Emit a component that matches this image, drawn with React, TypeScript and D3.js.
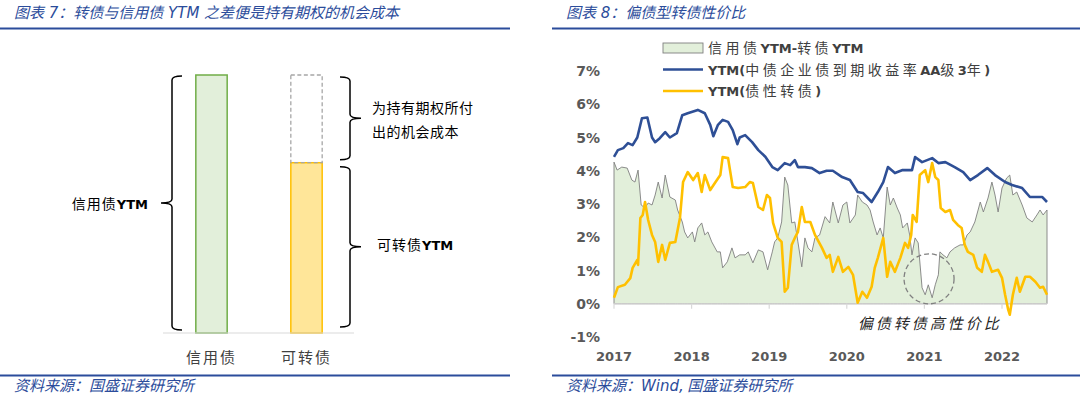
import React from 'react'
import * as d3 from 'd3'

// left diagram
const barCategories = ['信用债', '可转债']
const creditYtmLevel = 1
const cbYtmLevel = 0.66

// right chart: [year fraction, %]
const yearTicks = [2017, 2018, 2019, 2020, 2021, 2022]
const pctTicks = [-1, 0, 1, 2, 3, 4, 5, 6, 7]

const creditAA3y: [number, number][] = [
  [2017.0, 4.42], [2017.05, 4.62], [2017.12, 4.68], [2017.18, 4.83], [2017.24, 4.77],
  [2017.3, 5.0], [2017.36, 5.58], [2017.43, 5.6], [2017.49, 5.0], [2017.53, 4.86],
  [2017.59, 4.98], [2017.66, 5.16], [2017.72, 5.0], [2017.81, 5.13], [2017.88, 5.67],
  [2017.95, 5.73], [2018.08, 5.83], [2018.17, 5.73], [2018.24, 5.38], [2018.28, 5.04],
  [2018.34, 5.38], [2018.4, 5.53], [2018.47, 5.47], [2018.53, 5.22], [2018.59, 4.8],
  [2018.62, 5.0], [2018.69, 5.07], [2018.78, 4.86], [2018.86, 4.62], [2018.95, 4.42],
  [2019.04, 4.11], [2019.11, 4.02], [2019.2, 4.23], [2019.27, 4.17], [2019.33, 4.32],
  [2019.37, 4.11], [2019.46, 4.11], [2019.55, 4.08], [2019.65, 3.93], [2019.74, 4.0],
  [2019.82, 4.0], [2019.94, 3.81], [2020.04, 3.72], [2020.14, 3.36], [2020.21, 3.33],
  [2020.32, 3.06], [2020.4, 3.36], [2020.47, 3.66], [2020.53, 4.11], [2020.62, 3.93],
  [2020.72, 4.02], [2020.84, 4.02], [2020.88, 4.41], [2020.97, 4.26], [2021.1, 4.38],
  [2021.18, 4.23], [2021.27, 4.26], [2021.39, 4.11], [2021.5, 3.96], [2021.59, 3.72],
  [2021.69, 3.87], [2021.81, 4.08], [2021.91, 3.87], [2022.04, 3.66], [2022.13, 3.57],
  [2022.26, 3.48], [2022.36, 3.21], [2022.43, 3.21], [2022.52, 3.21], [2022.58, 3.06],
]

const cbDebtLike: [number, number][] = [
  [2017.0, 0.18], [2017.05, 0.5], [2017.14, 0.57], [2017.21, 0.77], [2017.24, 1.08],
  [2017.3, 1.32], [2017.31, 1.17], [2017.34, 2.58], [2017.37, 2.67], [2017.4, 3.06],
  [2017.44, 2.52], [2017.49, 2.07], [2017.53, 1.86], [2017.57, 1.26], [2017.62, 1.77],
  [2017.66, 1.32], [2017.72, 1.83], [2017.79, 1.86], [2017.85, 2.58], [2017.89, 3.66],
  [2017.95, 3.96], [2018.02, 3.72], [2018.08, 3.93], [2018.13, 3.36], [2018.17, 3.87],
  [2018.24, 3.42], [2018.3, 3.63], [2018.37, 3.87], [2018.4, 4.41], [2018.47, 4.38],
  [2018.53, 3.51], [2018.6, 3.48], [2018.69, 3.51], [2018.75, 3.66], [2018.79, 3.63],
  [2018.86, 2.91], [2018.92, 2.82], [2018.97, 3.27], [2019.01, 3.18], [2019.05, 2.43],
  [2019.11, 1.98], [2019.16, 1.86], [2019.2, 0.36], [2019.24, 0.48], [2019.29, 1.77],
  [2019.33, 1.98], [2019.37, 2.16], [2019.42, 2.91], [2019.46, 2.46], [2019.53, 2.46],
  [2019.59, 2.07], [2019.68, 1.68], [2019.74, 1.38], [2019.78, 1.47], [2019.82, 0.96],
  [2019.89, 1.41], [2019.95, 0.96], [2020.02, 1.11], [2020.08, 0.87], [2020.14, 0.03],
  [2020.2, 0.36], [2020.26, 0.18], [2020.32, 0.51], [2020.36, 1.08], [2020.4, 1.38],
  [2020.47, 1.98], [2020.52, 0.81], [2020.56, 1.26], [2020.62, 0.96], [2020.69, 1.38],
  [2020.75, 1.83], [2020.79, 1.68], [2020.83, 2.07], [2020.85, 2.67], [2020.9, 2.46],
  [2020.94, 3.87], [2021.01, 4.02], [2021.05, 3.66], [2021.1, 4.23], [2021.14, 3.81],
  [2021.18, 3.72], [2021.21, 2.88], [2021.27, 2.76], [2021.33, 2.82], [2021.37, 2.52],
  [2021.43, 2.37], [2021.48, 2.28], [2021.52, 1.77], [2021.56, 1.56], [2021.63, 1.47],
  [2021.68, 1.08], [2021.74, 0.96], [2021.78, 1.47], [2021.82, 1.26], [2021.87, 0.96],
  [2021.95, 1.02], [2022.0, 0.78], [2022.04, 0.27], [2022.08, -0.18], [2022.1, -0.33],
  [2022.14, 0.27], [2022.19, 0.78], [2022.23, 0.36], [2022.3, 0.81], [2022.36, 0.81],
  [2022.43, 0.66], [2022.49, 0.48], [2022.53, 0.51], [2022.58, 0.27],
]

const ytmSpread: [number, number][] = [
  [2017.0, 4.26], [2017.04, 4.02], [2017.1, 4.11], [2017.17, 4.08], [2017.23, 3.72],
  [2017.27, 3.66], [2017.31, 4.02], [2017.35, 2.97], [2017.4, 2.88], [2017.44, 3.03],
  [2017.49, 2.97], [2017.53, 3.27], [2017.57, 3.66], [2017.62, 3.18], [2017.66, 3.87],
  [2017.72, 3.21], [2017.79, 3.12], [2017.82, 2.82], [2017.88, 2.46], [2017.91, 2.16],
  [2017.95, 1.98], [2018.01, 2.16], [2018.04, 1.86], [2018.08, 2.28], [2018.13, 2.43],
  [2018.17, 2.07], [2018.21, 2.16], [2018.26, 1.86], [2018.33, 1.56], [2018.37, 1.56],
  [2018.4, 1.08], [2018.46, 1.26], [2018.52, 1.68], [2018.56, 1.38], [2018.62, 1.47],
  [2018.69, 1.47], [2018.73, 1.56], [2018.79, 1.23], [2018.86, 1.62], [2018.92, 1.56],
  [2018.98, 1.02], [2019.04, 1.56], [2019.07, 1.86], [2019.11, 1.98], [2019.16, 2.46],
  [2019.2, 3.81], [2019.24, 3.57], [2019.29, 2.43], [2019.33, 2.46], [2019.37, 1.86],
  [2019.42, 1.11], [2019.46, 1.98], [2019.5, 1.68], [2019.55, 1.56], [2019.59, 1.98],
  [2019.65, 2.07], [2019.72, 2.62], [2019.78, 2.43], [2019.82, 3.06], [2019.89, 2.43],
  [2019.95, 2.97], [2020.0, 3.06], [2020.04, 2.43], [2020.11, 2.67], [2020.14, 3.27],
  [2020.2, 3.06], [2020.26, 2.97], [2020.3, 2.82], [2020.34, 2.46], [2020.39, 2.07],
  [2020.43, 2.28], [2020.47, 1.98], [2020.52, 3.51], [2020.56, 2.97], [2020.6, 3.18],
  [2020.65, 2.88], [2020.69, 2.67], [2020.72, 2.28], [2020.78, 2.43], [2020.81, 2.07],
  [2020.84, 1.47], [2020.88, 1.98], [2020.92, 1.83], [2020.97, 0.48], [2021.01, 0.27],
  [2021.05, 0.57], [2021.1, 0.18], [2021.14, 0.57], [2021.18, 0.87], [2021.2, 1.56],
  [2021.24, 1.47], [2021.29, 1.38], [2021.33, 1.56], [2021.39, 1.68], [2021.46, 1.77],
  [2021.5, 1.77], [2021.55, 2.07], [2021.59, 2.16], [2021.65, 2.46], [2021.72, 3.06],
  [2021.76, 2.76], [2021.82, 3.18], [2021.87, 3.66], [2021.91, 3.27], [2021.95, 2.76],
  [2022.0, 3.48], [2022.06, 3.78], [2022.1, 3.87], [2022.14, 3.27], [2022.19, 3.36],
  [2022.26, 2.97], [2022.32, 2.58], [2022.39, 2.46], [2022.45, 2.67], [2022.49, 2.82],
  [2022.53, 2.67], [2022.58, 2.82],
]

const legendItems = [
  { label: '信用债YTM-转债YTM', kind: 'area' },
  { label: 'YTM(中债企业债到期收益率AA级3年)', kind: 'blue' },
  { label: 'YTM(债性转债)', kind: 'orange' },
]

const HEAD = '#2B4C9B'
const BLUE = '#2E4F96'
const ORANGE = '#FFC000'
const AREA_FILL = '#E2EFDA'
const CJK = '"Noto Sans CJK SC", sans-serif'
const LATIN = '"DejaVu Sans", "Noto Sans CJK SC", sans-serif'

const runs = (s: string) => s.match(/[\x00-\x7F]+|[^\x00-\x7F]+/g) ?? []

function Mixed({ x, y, text, anchor = 'start', size = 14, gap = 0, fill = '#262626' }: any) {
  return (
    <text x={x} y={y} textAnchor={anchor} fill={fill} fontSize={size}>
      {runs(text).map((r, i) =>
        /^[\x00-\x7F]+$/.test(r) ? (
          <tspan key={i} fontFamily={LATIN} fontWeight="bold" fontSize={size - 1}>{r}</tspan>
        ) : (
          <tspan key={i} fontFamily={CJK} letterSpacing={gap}>{r}</tspan>
        ),
      )}
    </text>
  )
}

// curly brace; dir 1 = tip to the right, -1 = tip to the left
function bracePath(x: number, y0: number, y1: number, dir: number) {
  const w = 10 * -dir
  const t = 11 * dir
  const r = 4
  const m = (y0 + y1) / 2
  return `M${x + w},${y0} Q${x},${y0} ${x},${y0 + r} L${x},${m - r} Q${x},${m} ${x + t},${m} Q${x},${m} ${x},${m + r} L${x},${y1 - r} Q${x},${y1} ${x + w},${y1}`
}

function LeftDiagram() {
  const x = d3.scaleBand<string>().domain(barCategories).range([164, 354]).paddingInner(0.67).paddingOuter(0.335)
  const y = d3.scaleLinear().domain([0, 1]).range([333, 75])
  const bw = x.bandwidth()
  const xc = x('信用债')!
  const xv = x('可转债')!
  return (
    <g>
      <text x={14} y={18} fill={HEAD} fontSize={15} fontStyle="italic" fontFamily={LATIN}>
        图表 7：转债与信用债 YTM 之差便是持有期权的机会成本
      </text>
      <line x1={0} x2={510} y1={28.5} y2={28.5} stroke={HEAD} strokeWidth={2.2} />

      <rect x={xc} y={y(creditYtmLevel)} width={bw} height={y(0) - y(creditYtmLevel)} fill={AREA_FILL} stroke="#70AD47" strokeWidth={1.5} />
      <rect x={xv} y={y(cbYtmLevel)} width={bw} height={y(0) - y(cbYtmLevel)} fill="#FFE699" stroke={ORANGE} strokeWidth={1.5} />
      <rect x={xv} y={y(creditYtmLevel)} width={bw} height={y(cbYtmLevel) - y(creditYtmLevel)} fill="none" stroke="#A6A6A6" strokeWidth={1.3} strokeDasharray="4,2.5" />
      <line x1={163} x2={354} y1={y(0)} y2={y(0)} stroke="#D9D9D9" strokeWidth={1} />

      {barCategories.map((c) => (
        <text key={c} x={x(c)! + bw / 2} y={363} textAnchor="middle" fontFamily={CJK} fontSize={15} letterSpacing={2} fill="#404040">{c}</text>
      ))}

      <path d={bracePath(172, y(creditYtmLevel) + 1, y(0) - 3, -1)} fill="none" stroke="#000" strokeWidth={1.5} />
      <path d={bracePath(350, y(creditYtmLevel) + 2, y(cbYtmLevel) - 3, 1)} fill="none" stroke="#000" strokeWidth={1.5} />
      <path d={bracePath(350, y(cbYtmLevel) + 4, y(0) - 6, 1)} fill="none" stroke="#000" strokeWidth={1.5} />

      <Mixed x={148} y={209} text="信用债YTM" anchor="end" size={14} gap={1} fill="#000" />
      <Mixed x={372} y={113} text="为持有期权所付" size={14} gap={0.5} fill="#000" />
      <Mixed x={372} y={137} text="出的机会成本" size={14} gap={0.5} fill="#000" />
      <Mixed x={377} y={250} text="可转债YTM" size={14} gap={1} fill="#000" />

      <line x1={0} x2={510} y1={375.5} y2={375.5} stroke={HEAD} strokeWidth={2.2} />
      <text x={14} y={391} fill={HEAD} fontSize={15} fontStyle="italic" fontFamily={CJK}>资料来源：国盛证券研究所</text>
    </g>
  )
}

function RightChart() {
  const x = d3.scaleLinear().domain([2017, 2023]).range([614, 1079.6])
  const y = d3.scaleLinear().domain([-1, 7]).range([337, 71])
  const line = d3.line<[number, number]>().x((d) => x(d[0])).y((d) => y(d[1]))
  const area = d3.area<[number, number]>().x((d) => x(d[0])).y0(y(0)).y1((d) => y(d[1]))
  const xEnd = x(creditAA3y[creditAA3y.length - 1][0])
  return (
    <g>
      <text x={566} y={18} fill={HEAD} fontSize={15} fontStyle="italic" fontFamily={LATIN}>
        图表 8：偏债型转债性价比
      </text>
      <line x1={552} x2={1080} y1={28.5} y2={28.5} stroke={HEAD} strokeWidth={2.2} />

      {pctTicks.map((t) => (
        <text key={t} x={600} y={y(t) + 5} textAnchor="end" fontFamily={LATIN} fontWeight="bold" fontSize={14} fill="#595959">{`${t}%`}</text>
      ))}

      <path d={area(ytmSpread)!} fill={AREA_FILL} stroke="#7F7F7F" strokeWidth={0.9} strokeLinejoin="round" />
      <line x1={x(2017)} x2={xEnd} y1={y(0)} y2={y(0)} stroke="#D9D9D9" strokeWidth={1.2} />
      {yearTicks.map((t) => (
        <g key={t}>
          <line x1={x(t)} x2={x(t)} y1={y(0)} y2={y(0) + 5} stroke="#D9D9D9" strokeWidth={1.2} />
          <text x={x(t)} y={361} textAnchor="middle" fontFamily={LATIN} fontWeight="bold" fontSize={13} fill="#595959">{t}</text>
        </g>
      ))}

      <path d={line(creditAA3y)!} fill="none" stroke={BLUE} strokeWidth={2.6} strokeLinejoin="round" />
      <path d={line(cbDebtLike)!} fill="none" stroke={ORANGE} strokeWidth={2.6} strokeLinejoin="round" />

      <circle cx={x(2021.06)} cy={y(0.75)} r={25} fill="none" stroke="#808080" strokeWidth={1.3} strokeDasharray="5,3" />
      <text x={x(2021.07)} y={329} textAnchor="middle" fontFamily={CJK} fontStyle="italic" fontSize={15} letterSpacing={3} fill="#262626">偏债转债高性价比</text>

      {legendItems.map((it, i) => {
        const ly = 48 + i * 21.5
        return (
          <g key={it.label}>
            {it.kind === 'area' ? (
              <rect x={663} y={ly - 5} width={40} height={10} fill={AREA_FILL} stroke="#7F7F7F" strokeWidth={0.9} />
            ) : (
              <line x1={663} x2={703} y1={ly} y2={ly} stroke={it.kind === 'blue' ? BLUE : ORANGE} strokeWidth={2.6} />
            )}
            <Mixed x={708} y={ly + 5} text={it.label} size={14} gap={3.5} fill="#404040" />
          </g>
        )
      })}

      <line x1={552} x2={1080} y1={375.5} y2={375.5} stroke={HEAD} strokeWidth={2.2} />
      <text x={566} y={391} fill={HEAD} fontSize={15} fontStyle="italic" fontFamily={LATIN}>
        <tspan fontFamily={CJK}>资料来源：</tspan>Wind,<tspan fontFamily={CJK}> 国盛证券研究所</tspan>
      </text>
    </g>
  )
}

export default function App() {
  return (
    <svg width={1080} height={398} style={{ position: 'absolute', left: 0, top: 0, background: '#fff' }}>
      <LeftDiagram />
      <RightChart />
    </svg>
  )
}
